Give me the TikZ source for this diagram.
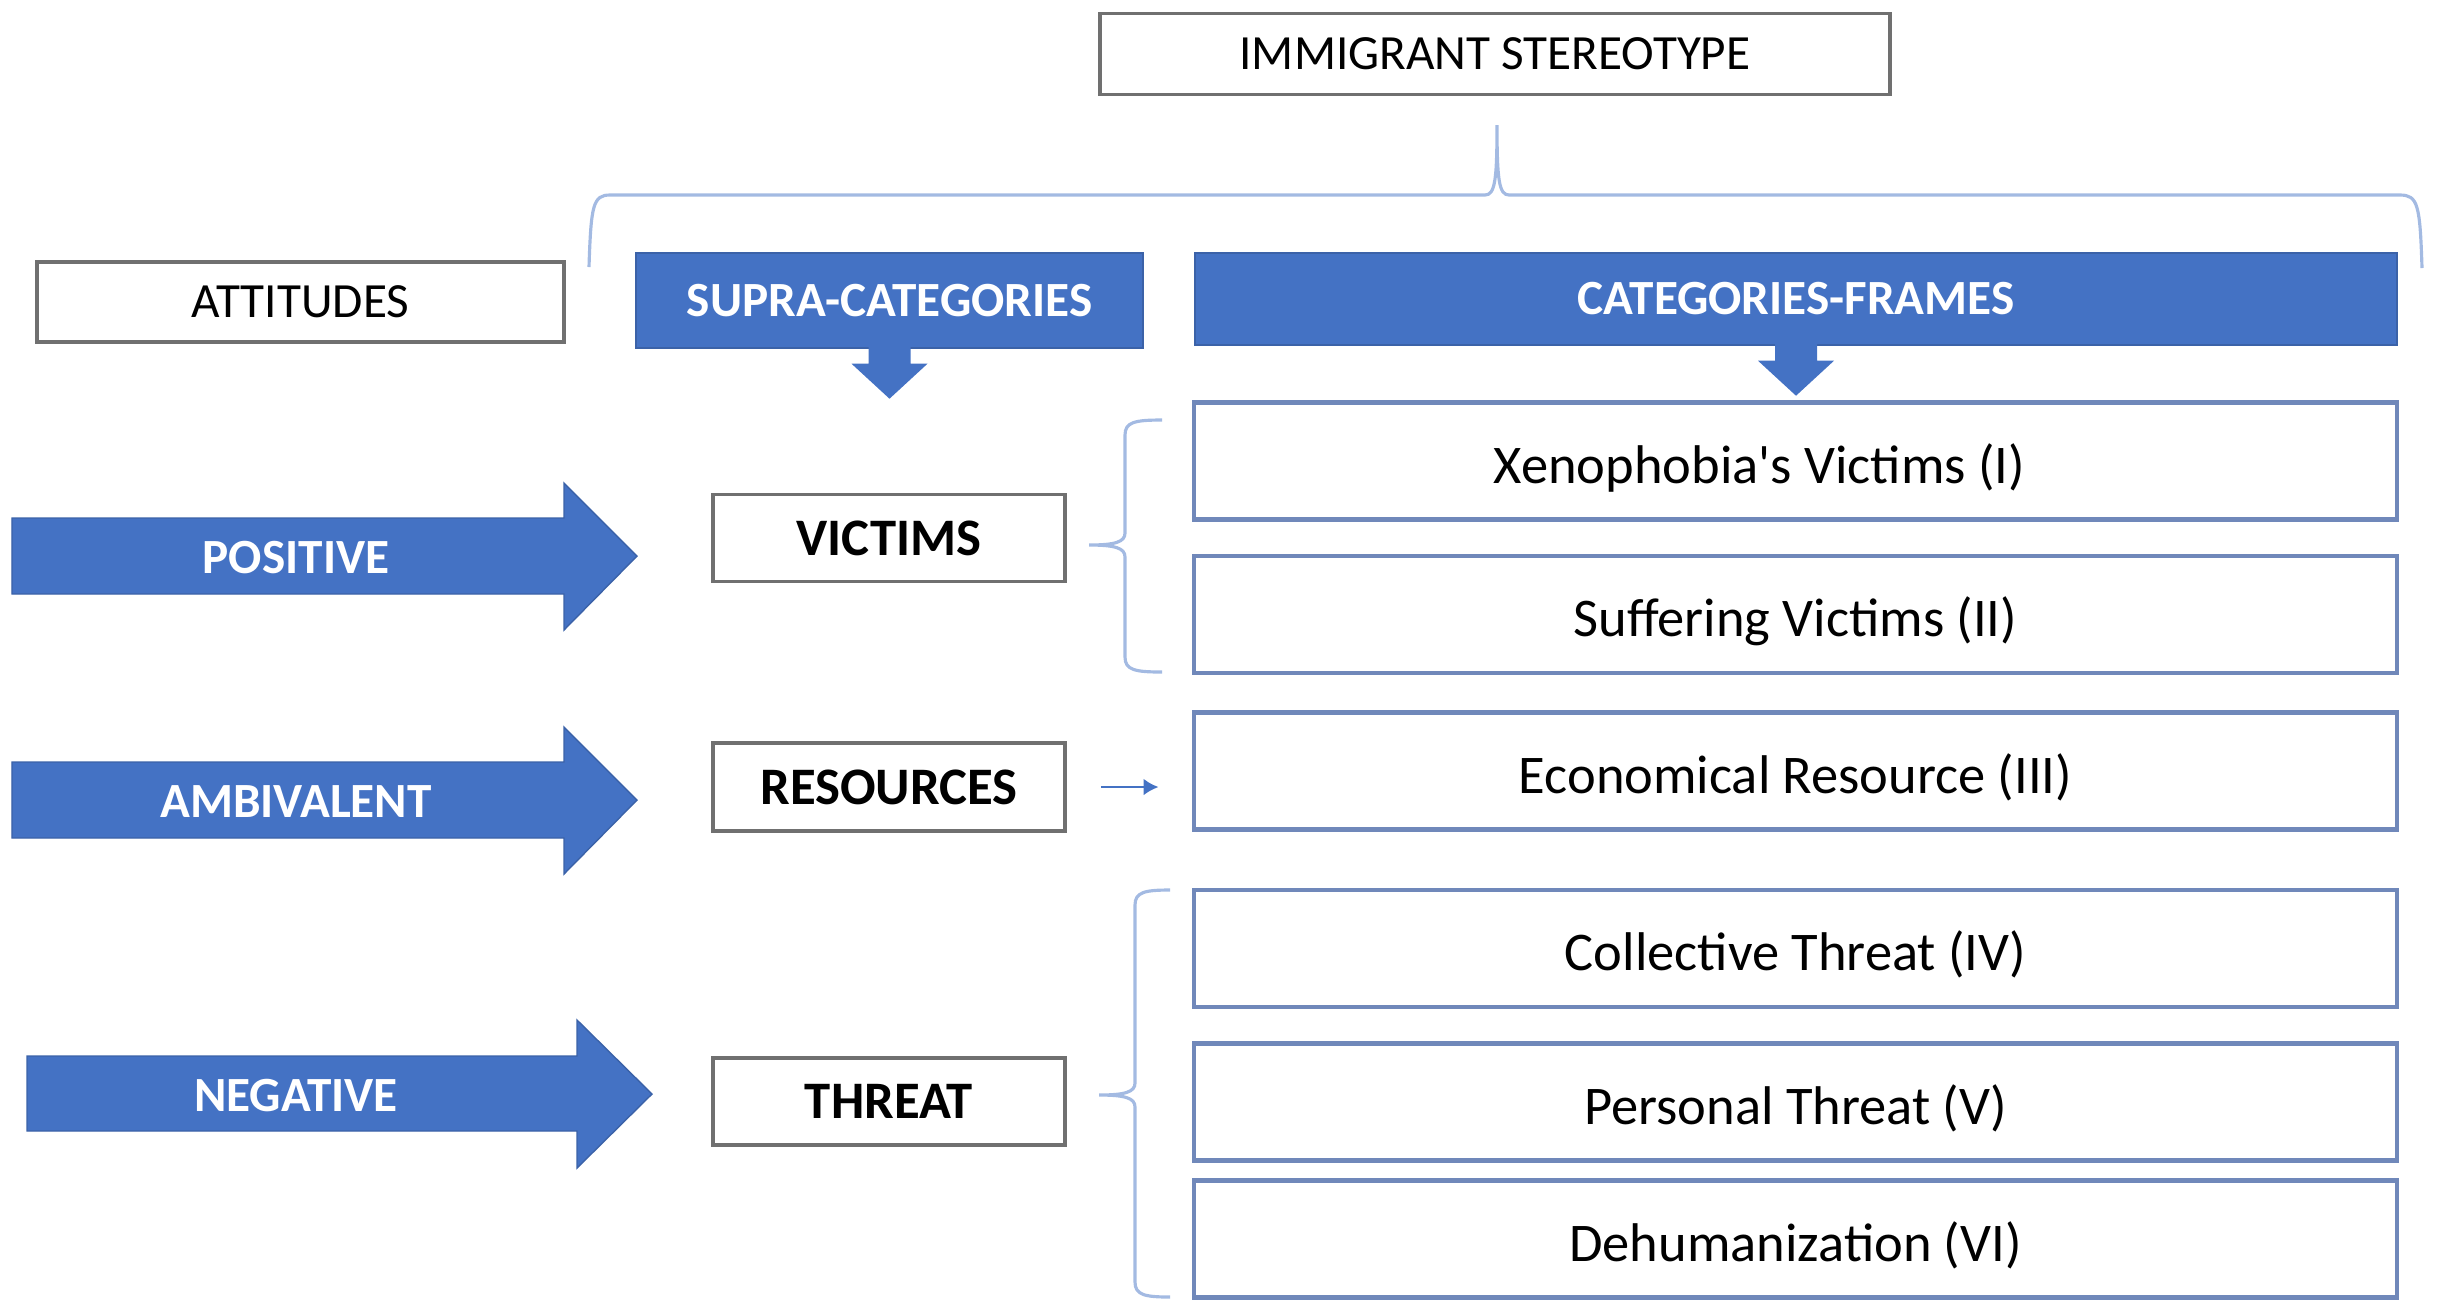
\documentclass[tikz,border=0pt]{standalone}
\usepackage{fontspec}
\setmainfont{Carlito}
\usetikzlibrary{arrows.meta}

\definecolor{azulforte}{HTML}{4472C4}
\definecolor{azulborda}{HTML}{3B62A8}
\definecolor{azulmoldura}{HTML}{7088BA}
\definecolor{azulclaro}{HTML}{A3BAE2}
\definecolor{cinzacaixa}{HTML}{707070}

\begin{document}
\begin{tikzpicture}[
  caixa/.style={draw=cinzacaixa, line width=1.1pt, fill=white, inner sep=0pt, font=\fontsize{14}{16}\selectfont},
  caixasupra/.style={caixa, minimum width=3.52cm, minimum height=0.87cm, font=\fontsize{15}{18}\selectfont\bfseries},
  cabecalho/.style={fill=azulforte, draw=azulborda, text=white, inner sep=0pt, font=\fontsize{14}{16}\selectfont\bfseries},
  quadro/.style={draw=azulmoldura, line width=1.4pt, fill=white, minimum width=12.03cm, minimum height=1.17cm, inner sep=0pt, text height=16pt, text depth=3.4pt, font=\fontsize{15.5}{18}\selectfont},
  rotulo/.style={text=white, inner sep=0pt, font=\fontsize{14}{16}\selectfont\bfseries},
  chave/.style={draw=azulclaro, line width=0.9pt},
  seta/.style={fill=azulforte, draw=azulborda, line width=0.4pt}
]
\useasboundingbox (0,0) rectangle (24.39,-13.12);

% topo
\node [caixa, minimum width=7.9cm, minimum height=0.81cm] (estereotipo) at (14.95,-0.54) {IMMIGRANT STEREOTYPE};
\draw [chave] (5.89,-2.67) .. controls (5.91,-2.05) and (5.93,-1.95) .. (6.10,-1.95) -- (14.85,-1.95) .. controls (14.95,-1.95) and (14.97,-1.80) .. (14.97,-1.25) .. controls (14.97,-1.80) and (14.99,-1.95) .. (15.09,-1.95) -- (24.00,-1.95) .. controls (24.18,-1.95) and (24.20,-2.05) .. (24.22,-2.68);

% cabecalhos
\node [caixa, minimum width=5.27cm, minimum height=0.80cm] (atitudes) at (3.005,-3.02) {ATTITUDES};
\node [cabecalho, minimum width=5.07cm, minimum height=0.95cm] (supra) at (8.895,-3.005) {SUPRA-CATEGORIES};
\node [cabecalho, minimum width=12.02cm, minimum height=0.92cm] (quadros) at (17.96,-2.99) {CATEGORIES-FRAMES};
\fill [azulforte] (supra.south) ++(-0.21,0.02) -- ++(0,-0.17) -- ++(-0.17,0) -- ++(0.38,-0.35) -- ++(0.38,0.35) -- ++(-0.17,0) -- ++(0,0.17) -- cycle;
\fill [azulforte] (quadros.south) ++(-0.21,0.02) -- ++(0,-0.17) -- ++(-0.17,0) -- ++(0.38,-0.35) -- ++(0.38,0.35) -- ++(-0.17,0) -- ++(0,0.17) -- cycle;

% atitudes
\fill [seta] (0.12,-5.18) -- ++(5.52,0) -- ++(0,0.35) -- ++(0.73,-0.73) -- ++(-0.73,-0.74) -- ++(0,0.36) -- ++(-5.52,0) -- cycle;
\node [rotulo] (positiva) at (2.96,-5.58) {POSITIVE};
\fill [seta] (0.12,-7.62) -- ++(5.52,0) -- ++(0,0.35) -- ++(0.73,-0.73) -- ++(-0.73,-0.74) -- ++(0,0.36) -- ++(-5.52,0) -- cycle;
\node [rotulo] (ambivalente) at (2.96,-8.02) {AMBIVALENT};
\fill [seta] (0.27,-10.56) -- ++(5.50,0) -- ++(0,0.36) -- ++(0.75,-0.74) -- ++(-0.75,-0.74) -- ++(0,0.37) -- ++(-5.50,0) -- cycle;
\node [rotulo] (negativa) at (2.96,-10.96) {NEGATIVE};

% supra-categorias
\node [caixasupra] (vitimas) at (8.89,-5.38) {VICTIMS};
\node [caixasupra, minimum height=0.88cm] (recursos) at (8.89,-7.87) {RESOURCES};
\node [caixasupra] (ameaca) at (8.89,-11.015) {THREAT};

% categorias-quadros
\node [quadro] (xenofobia) at (17.955,-4.61) {Xenophobia\textquotesingle s Victims (I)\hspace*{0.72cm}};
\node [quadro] (sofrimento) at (17.955,-6.145) {Suffering Victims (II)};
\node [quadro] (economico) at (17.955,-7.71) {Economical Resource (III)};
\node [quadro] (coletiva) at (17.955,-9.485) {Collective Threat (IV)};
\node [quadro] (pessoal) at (17.955,-11.02) {Personal Threat (V)};
\node [quadro] (desumano) at (17.955,-12.39) {Dehumanization (VI)};

% chaves
\draw [chave] (11.62,-4.20) .. controls (11.35,-4.20) and (11.25,-4.22) .. (11.25,-4.35) -- (11.25,-5.33) .. controls (11.25,-5.42) and (11.15,-5.45) .. (10.89,-5.45) .. controls (11.15,-5.45) and (11.25,-5.48) .. (11.25,-5.57) -- (11.25,-6.57) .. controls (11.25,-6.70) and (11.35,-6.72) .. (11.62,-6.72);
\draw [chave] (11.70,-8.90) .. controls (11.45,-8.90) and (11.35,-8.92) .. (11.35,-9.05) -- (11.35,-10.83) .. controls (11.35,-10.92) and (11.25,-10.95) .. (10.99,-10.95) .. controls (11.25,-10.95) and (11.35,-10.98) .. (11.35,-11.07) -- (11.35,-12.82) .. controls (11.35,-12.95) and (11.45,-12.97) .. (11.70,-12.97);
\draw [-{Latex[length=1.5mm,width=1.7mm]}, azulforte, line width=0.8pt, shorten <=0.34cm, shorten >=0.33cm] (recursos.east) -- (recursos.east -| economico.west);
\end{tikzpicture}
\end{document}
